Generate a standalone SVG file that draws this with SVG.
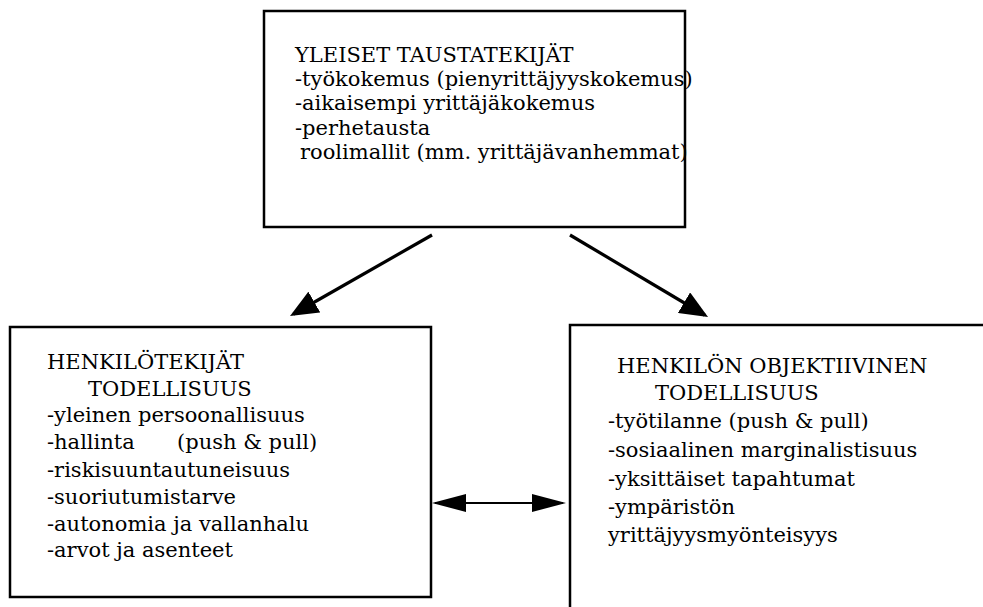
<svg xmlns="http://www.w3.org/2000/svg" width="983" height="607" viewBox="0 0 983 607">
<style>
.box{fill:#fff;stroke:#000;stroke-width:2.5}
.t{font-family:"DejaVu Serif","Liberation Serif",serif;font-size:21px;fill:#000}
.conn{stroke:#000;fill:none}
</style>
<defs>
<marker id="ah" markerUnits="userSpaceOnUse" viewBox="0 0 28 24" refX="24" refY="12" markerWidth="28" markerHeight="24" orient="auto">
<path d="M0,0 L28,12 L0,24 z" fill="#000"/>
</marker>
<marker id="ah2" markerUnits="userSpaceOnUse" viewBox="0 0 34 18" refX="31" refY="9" markerWidth="34" markerHeight="18" orient="auto-start-reverse">
<path d="M0,0 L34,9 L0,18 z" fill="#000"/>
</marker>
</defs>
<rect width="983" height="607" fill="#fff"/>
<g id="top">
<rect class="box" x="264" y="11" width="421" height="216"/>
<text class="t" x="295" y="62">YLEISET TAUSTATEKIJÄT</text>
<text class="t" x="295" y="86">-työkokemus (pienyrittäjyyskokemus)</text>
<text class="t" x="295" y="110">-aikaisempi yrittäjäkokemus</text>
<text class="t" x="295" y="135">-perhetausta</text>
<text class="t" x="300" y="159">roolimallit (mm. yrittäjävanhemmat)</text>
</g>
<g id="left">
<rect class="box" x="10" y="327" width="421" height="270"/>
<text class="t" x="47" y="369">HENKILÖTEKIJÄT</text>
<text class="t" x="88" y="396">TODELLISUUS</text>
<text class="t" x="47" y="422">-yleinen persoonallisuus</text>
<text class="t" x="47" y="449">-hallinta</text>
<text class="t" x="177" y="449">(push &amp; pull)</text>
<text class="t" x="47" y="477">-riskisuuntautuneisuus</text>
<text class="t" x="47" y="504">-suoriutumistarve</text>
<text class="t" x="47" y="531">-autonomia ja vallanhalu</text>
<text class="t" x="47" y="557">-arvot ja asenteet</text>
</g>
<g id="right">
<rect class="box" x="570" y="325" width="430" height="300"/>
<text class="t" x="617" y="373">HENKILÖN OBJEKTIIVINEN</text>
<text class="t" x="655" y="400">TODELLISUUS</text>
<text class="t" x="608" y="428">-työtilanne (push &amp; pull)</text>
<text class="t" x="608" y="457">-sosiaalinen marginalistisuus</text>
<text class="t" x="608" y="486">-yksittäiset tapahtumat</text>
<text class="t" x="608" y="514">-ympäristön</text>
<text class="t" x="608" y="542">yrittäjyysmyönteisyys</text>
</g>
<g id="connectors">
<line class="conn" stroke-width="3.2" x1="432" y1="235" x2="293.5" y2="314" marker-end="url(#ah)"/>
<line class="conn" stroke-width="3.2" x1="570" y1="235" x2="704.6" y2="315" marker-end="url(#ah)"/>
<line class="conn" stroke-width="2.2" x1="435" y1="503" x2="563" y2="503" marker-start="url(#ah2)" marker-end="url(#ah2)"/>
</g>
</svg>
